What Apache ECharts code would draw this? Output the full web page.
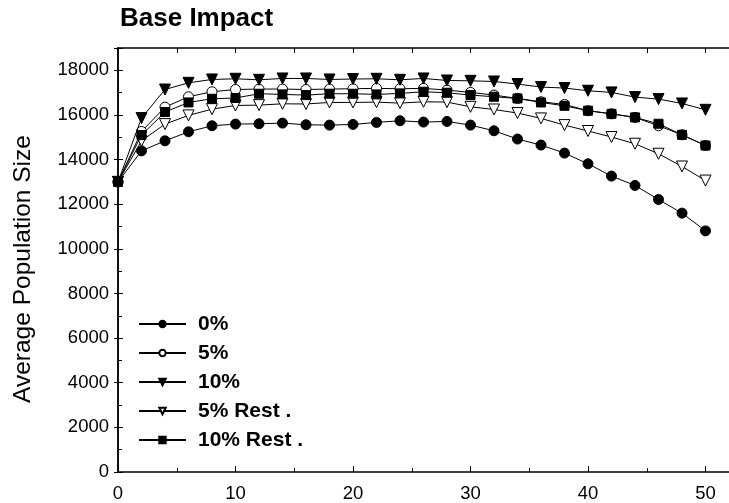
<!DOCTYPE html>
<html>
<head>
<meta charset="utf-8">
<script src="https://cdn.jsdelivr.net/npm/echarts@6/dist/echarts.min.js"></script>
<style>html,body{margin:0;padding:0;background:#fff}#c{width:729px;height:503px}</style>
</head>
<body>
<div id="c"></div>
<script>
var years = [0,2,4,6,8,10,12,14,16,18,20,22,24,26,28,30,32,34,36,38,40,42,44,46,48,50];
var pct0 = [13000,14390,14840,15245,15515,15590,15605,15635,15560,15545,15575,15665,15740,15680,15710,15545,15290,14920,14650,14290,13810,13260,12840,12210,11600,10805];
var pct5 = [13000,15260,16350,16815,17040,17140,17160,17160,17140,17160,17175,17190,17175,17190,17115,17010,16890,16740,16590,16470,16190,16050,15890,15515,15110,14630];
var pct10 = [13000,15860,17140,17440,17590,17620,17575,17635,17635,17590,17610,17620,17575,17635,17545,17530,17500,17385,17250,17205,17085,17010,16800,16710,16515,16230];
var pct5Rest = [13000,14840,15590,15980,16260,16425,16440,16500,16490,16560,16560,16575,16530,16590,16575,16365,16245,16085,15845,15545,15280,15010,14710,14260,13690,13060];
var pct10Rest = [13000,15100,16130,16560,16725,16760,16950,16920,16890,16950,16950,16920,16965,17040,16995,16890,16815,16740,16560,16410,16190,16050,15890,15605,15110,14630];
var seriesNames = ['0%','5%','10%','5% Rest .','10% Rest .'];
var titleText = 'Base Impact';
var yName = 'Average Population Size';

function pairs(v){ return years.map(function(x,i){ return [x, v[i]]; }); }
function mk(name, vals, symbol, size, filled, rotate, z){
  return {
    name: name, type: 'line', data: pairs(vals), symbol: symbol, symbolSize: size,
    symbolRotate: rotate, z: z, showAllSymbol: true,
    lineStyle: {color: '#000', width: 1},
    itemStyle: {color: filled ? '#000' : '#fff', borderColor: '#000', borderWidth: 1},
    emphasis: {disabled: true}
  };
}
function plain(v){ return String(v); }
var font = 'Arial, "Liberation Sans", sans-serif';
var chart = echarts.init(document.getElementById('c'));
chart.setOption({
  animation: false,
  backgroundColor: '#fff',
  title: {text: titleText, left: 120, top: 6, padding: 0,
    textStyle: {fontFamily: font, fontSize: 26, fontWeight: 'bold', color: '#000'}},
  grid: {left: 118, top: 48, right: -4, bottom: 31},
  legend: {
    data: seriesNames, orient: 'vertical', left: 138, top: 313, padding: 0,
    itemWidth: 47, itemHeight: 8, itemGap: 7,
    textStyle: {fontFamily: font, fontSize: 21, fontWeight: 'bold', color: '#000', lineHeight: 22, padding: [0,0,0,7]}
  },
  graphic: [{type: 'text', x: 23, y: 269, rotation: Math.PI/2,
    style: {text: yName, fontFamily: font, fontSize: 24.5, fill: '#000', textAlign: 'center', textVerticalAlign: 'middle'}}],
  xAxis: [
    {type: 'value', min: 0, max: 52, interval: 10, position: 'bottom',
     axisLine: {lineStyle: {color: '#000', width: 1.5}},
     axisTick: {inside: true, length: 6, lineStyle: {color: '#000'}},
     minorTick: {show: true, splitNumber: 2, length: 4, lineStyle: {color: '#000'}},
     axisLabel: {fontFamily: font, fontSize: 18.5, color: '#000', margin: 12, showMaxLabel: false, formatter: plain},
     splitLine: {show: false}},
    {type: 'value', min: 0, max: 52, interval: 5, position: 'top',
     axisLine: {show: true, onZero: false, lineStyle: {color: '#000', width: 1.5}},
     axisTick: {show: true, inside: true, length: 5, lineStyle: {color: '#000'}},
     axisLabel: {show: false}, splitLine: {show: false}}
  ],
  yAxis: [
    {type: 'value', min: 0, max: 19000, interval: 2000, position: 'left',
     axisLine: {show: true, lineStyle: {color: '#000', width: 1.5}},
     axisTick: {show: true, inside: true, length: 5, lineStyle: {color: '#000'}},
     minorTick: {show: true, splitNumber: 2, length: 4, lineStyle: {color: '#000'}},
     axisLabel: {fontFamily: font, fontSize: 18.5, color: '#000', margin: 9, showMaxLabel: false, formatter: plain},
     splitLine: {show: false}},
    {type: 'value', min: 0, max: 19000, interval: 2000, position: 'right',
     axisLine: {show: true, lineStyle: {color: '#000', width: 1.5}},
     axisTick: {show: true, inside: true, length: 4, lineStyle: {color: '#000'}},
     axisLabel: {show: false}, splitLine: {show: false}}
  ],
  series: [
    mk(seriesNames[1], pct5, 'circle', 10, false, 0, 2),
    mk(seriesNames[3], pct5Rest, 'triangle', 11, false, 180, 3),
    mk(seriesNames[2], pct10, 'triangle', 11, true, 180, 4),
    mk(seriesNames[4], pct10Rest, 'rect', 9, true, 0, 5),
    mk(seriesNames[0], pct0, 'circle', 10, true, 0, 6)
  ]
});
</script>
</body>
</html>
